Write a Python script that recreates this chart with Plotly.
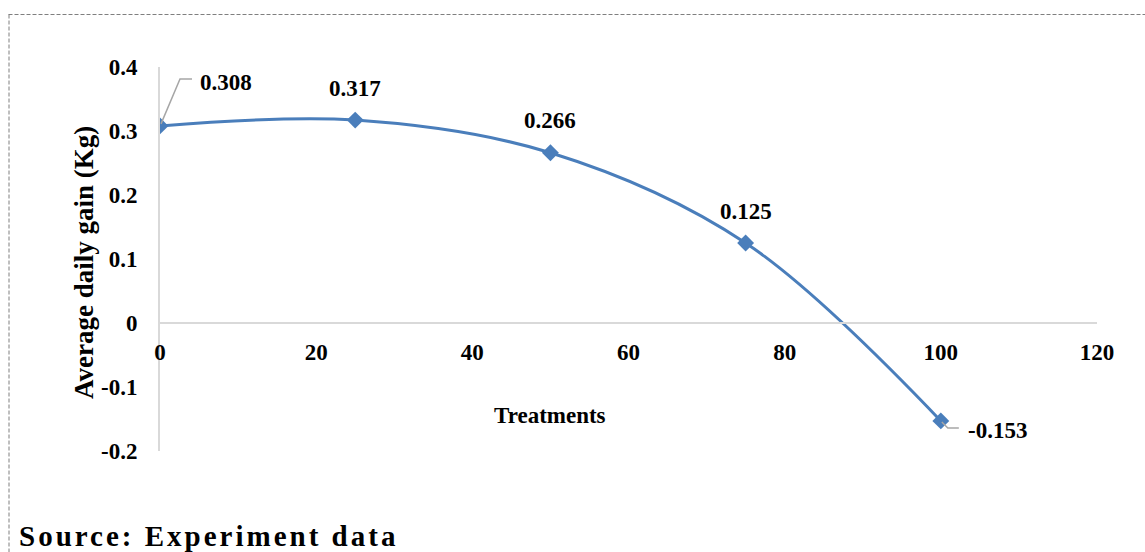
import plotly.graph_objects as go

# Average daily gain per treatment level
treatments = [0, 25, 50, 75, 100]
daily_gain = [0.308, 0.317, 0.266, 0.125, -0.153]
value_labels = ["0.308", "0.317", "0.266", "0.125", "-0.153"]

x_ticks = [0, 20, 40, 60, 80, 100, 120]
x_tick_text = ["0", "20", "40", "60", "80", "100", "120"]
y_ticks = [-0.2, -0.1, 0, 0.1, 0.2, 0.3, 0.4]
y_tick_text = ["-0.2", "-0.1", "0", "0.1", "0.2", "0.3", "0.4"]

W, H = 1145, 552
ML, MR, MT, MB = 160, 48, 67, 101
PW, PH = W - ML - MR, H - MT - MB

FONT = "Liberation Serif, Times New Roman, serif"
BLUE = "#4A7EBB"
LEADER = "#A6A6A6"


def px(xp):
    return (xp - ML) / PW


def py(yp):
    return (H - MB - yp) / PH


fig = go.Figure()
fig.add_trace(go.Scatter(
    x=treatments, y=daily_gain,
    mode="lines+markers",
    line=dict(color=BLUE, width=3, shape="spline", smoothing=1.0),
    marker=dict(symbol="diamond", size=13, color=BLUE),
    hoverinfo="x+y", showlegend=False,
))

lab_font = dict(family=FONT, size=23, color="black", weight="bold")

# value labels: the first and last get a bent leader line
annotations = []
shapes = []
for i, (xv, yv, txt) in enumerate(zip(treatments, daily_gain, value_labels)):
    if i == 0:
        annotations.append(dict(x=xv, y=yv, text=txt, showarrow=False,
                                xanchor="left", yanchor="middle",
                                xshift=38, yshift=43, font=lab_font))
        shapes.append(dict(type="path", xref="x", yref="y",
                           xsizemode="pixel", ysizemode="pixel",
                           xanchor=xv, yanchor=yv,
                           path="M 1,2 L 20,47 L 32,47",
                           line=dict(color=LEADER, width=1.5)))
    elif i == len(treatments) - 1:
        annotations.append(dict(x=xv, y=yv, text=txt, showarrow=False,
                                xanchor="left", yanchor="middle",
                                xshift=25, yshift=-10, font=lab_font))
        shapes.append(dict(type="path", xref="x", yref="y",
                           xsizemode="pixel", ysizemode="pixel",
                           xanchor=xv, yanchor=yv,
                           path="M 1,-1 L 7,-7 L 18,-7",
                           line=dict(color=LEADER, width=1.5)))
    else:
        annotations.append(dict(x=xv, y=yv, text=txt, showarrow=False,
                                xanchor="center", yanchor="middle",
                                yshift=32, font=lab_font))

# x-axis title sits just below the curve, mid-range
annotations.append(dict(x=50, y=-0.145, xref="x", yref="y", text="Treatments",
                        showarrow=False, xanchor="center", yanchor="middle",
                        font=dict(family=FONT, size=23, color="black", weight="bold")))

# y-axis title
annotations.append(dict(x=px(84), y=py(263), xref="paper", yref="paper",
                        text="Average daily gain (Kg)", textangle=-90,
                        showarrow=False, xanchor="center", yanchor="middle",
                        font=dict(family=FONT, size=27, color="black", weight="bold")))

# source note
annotations.append(dict(x=px(17), y=py(536), xref="paper", yref="paper",
                        text="Source: Experiment data", showarrow=False,
                        xanchor="left", yanchor="middle", align="left",
                        font=dict(family=FONT, size=29, color="black", weight="bold")))

# dashed frame (top and left edges)
frame = dict(color="#7F7F7F", width=1, dash="4px,2px")
shapes.append(dict(type="line", xref="paper", yref="paper",
                   x0=px(8.5), x1=px(W), y0=py(14.5), y1=py(14.5), line=frame))
shapes.append(dict(type="line", xref="paper", yref="paper",
                   x0=px(9), x1=px(9), y0=py(14.5), y1=py(H), line=frame))

fig.update_layout(
    width=W, height=H,
    margin=dict(l=ML, r=MR, t=MT, b=MB, autoexpand=False),
    paper_bgcolor="white", plot_bgcolor="white",
    font=dict(family=FONT, color="black"),
    annotations=annotations, shapes=shapes,
    xaxis=dict(range=[0, 120], tickvals=x_ticks, ticktext=x_tick_text,
               anchor="free", position=py(H - MB - PH / 3),
               showline=True, linecolor="#D9D9D9", linewidth=2,
               showgrid=False, zeroline=False, ticks="",
               ticklabelstandoff=8,
               tickfont=dict(family=FONT, size=23, color="black", weight="bold")),
    yaxis=dict(range=[-0.2, 0.4], tickvals=y_ticks, ticktext=y_tick_text,
               showline=True, linecolor="#D9D9D9", linewidth=2,
               showgrid=False, zeroline=False, ticks="",
               ticklabelstandoff=16,
               tickfont=dict(family=FONT, size=23, color="black", weight="bold")),
)

spacing_js = """
document.querySelectorAll('.annotation-text').forEach(function (t) {
  if (t.textContent.indexOf('Source') === 0) { t.style.letterSpacing = '3px'; }
});
"""

fig.write_html("out.html", post_script=spacing_js)
